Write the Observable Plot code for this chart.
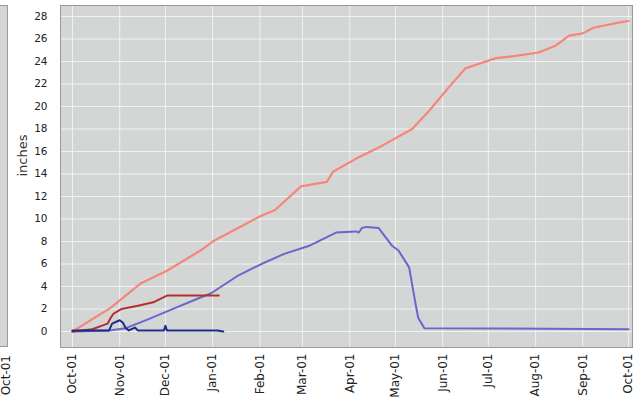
<!DOCTYPE html>
<html>
<head>
<meta charset="utf-8">
<script src="https://cdn.jsdelivr.net/npm/d3@7"></script>
<script src="https://cdn.jsdelivr.net/npm/@observablehq/plot@0.6"></script>
<style>
  html, body { margin: 0; padding: 0; background: #fff; }
  #wrap { position: relative; width: 637px; height: 408px; overflow: hidden; font-family: "DejaVu Sans", sans-serif; }
  #chart { position: absolute; left: 0; top: 0; }
  #strip { position: absolute; left: 0; top: 5px; width: 8px; height: 342px; background: #d4d6d6; border-right: 1px solid #9a9a9a; border-top: 1px solid #9a9a9a; border-bottom: 1px solid #9a9a9a; box-sizing: border-box; }
  #stripLabel { position: absolute; left: 0; top: 355px; font-size: 12px; line-height: 13px; color: #222; transform-origin: 0 0; transform: rotate(-90deg) translate(-100%, 0); white-space: nowrap; }
</style>
</head>
<body>
<div id="wrap">
  <div id="strip"></div>
  <div id="stripLabel">Oct-01</div>
  <div id="chart"></div>
</div>
<script>
// Normal (average) cumulative precipitation
const normPrecipDates = ["2000-10-01","2000-10-26","2000-11-15","2000-12-02","2000-12-24","2001-01-01","2001-02-02","2001-02-11","2001-02-28","2001-03-17","2001-03-21","2001-04-07","2001-04-22","2001-05-12","2001-05-23","2001-06-05","2001-06-16","2001-07-06","2001-07-19","2001-08-03","2001-08-14","2001-08-23","2001-09-01","2001-09-08","2001-09-26","2001-10-01"];
const normPrecipValues = [0,2.1,4.3,5.4,7.2,8.0,10.3,10.8,12.9,13.3,14.2,15.5,16.5,18.0,19.6,21.7,23.4,24.3,24.5,24.8,25.4,26.3,26.5,27.0,27.5,27.6];

// Normal (average) snow water equivalent
const normSweDates = ["2000-10-01","2000-10-25","2000-11-05","2000-11-20","2000-12-04","2000-12-20","2000-12-31","2001-01-18","2001-02-02","2001-02-17","2001-03-05","2001-03-17","2001-03-23","2001-04-05","2001-04-07","2001-04-09","2001-04-12","2001-04-20","2001-04-29","2001-05-03","2001-05-10","2001-05-14","2001-05-16","2001-05-20","2001-10-01"];
const normSweValues = [0,0.1,0.3,1.1,1.9,2.8,3.4,5.0,6.0,6.9,7.6,8.4,8.8,8.9,8.8,9.2,9.3,9.2,7.6,7.2,5.7,2.6,1.2,0.3,0.2];

// Current year cumulative precipitation
const curPrecipDates = ["2000-10-01","2000-10-14","2000-10-24","2000-10-26","2000-10-28","2000-11-02","2000-11-13","2000-11-23","2000-12-02","2001-01-05"];
const curPrecipValues = [0,0.2,0.7,1.2,1.6,2.0,2.3,2.6,3.2,3.2];

// Current year snow water equivalent
const curSweDates = ["2000-10-01","2000-10-25","2000-10-27","2000-11-01","2000-11-03","2000-11-05","2000-11-07","2000-11-11","2000-11-13","2000-11-30","2000-12-01","2000-12-02","2001-01-04","2001-01-08"];
const curSweValues = [0.1,0.1,0.7,1.0,0.8,0.3,0.1,0.35,0.1,0.1,0.5,0.1,0.1,0.0];

const yTicks = d3.range(0, 29, 2);
const monthTicks = d3.utcMonth.range(new Date("2000-10-01"), new Date("2001-10-02"));

function toRows(dates, values, series) {
  return dates.map((d, i) => ({date: new Date(d), value: values[i], series}));
}
const normPrecip = toRows(normPrecipDates, normPrecipValues, "normPrecip");
const normSwe = toRows(normSweDates, normSweValues, "normSwe");
const curPrecip = toRows(curPrecipDates, curPrecipValues, "curPrecip");
const curSwe = toRows(curSweDates, curSweValues, "curSwe");

const plot = Plot.plot({
  width: 637,
  height: 408,
  marginLeft: 60,
  marginRight: 5,
  marginTop: 5,
  marginBottom: 61,
  style: {fontFamily: "DejaVu Sans, sans-serif", color: "#222", background: "transparent"},
  x: {type: "utc", domain: [new Date("2000-09-23T03:00Z"), new Date("2001-10-03T15:00Z")]},
  y: {domain: [-1.42, 28.98]},
  marks: [
    Plot.frame({fill: "#d4d6d6", stroke: null}),
    Plot.gridX(monthTicks, {stroke: "#f4f4f4", strokeOpacity: 0.9, strokeWidth: 1}),
    Plot.gridY(yTicks, {stroke: "#f4f4f4", strokeOpacity: 0.9, strokeWidth: 1}),
    Plot.line(normPrecip, {x: "date", y: "value", stroke: "#f4877a", strokeWidth: 2.2}),
    Plot.line(normSwe, {x: "date", y: "value", stroke: "#6a66cc", strokeWidth: 2}),
    Plot.line(curPrecip, {x: "date", y: "value", stroke: "#b3302e", strokeWidth: 2}),
    Plot.line(curSwe, {x: "date", y: "value", stroke: "#1f2c86", strokeWidth: 2}),
    Plot.frame({stroke: "#9a9a9a", strokeWidth: 1}),
    Plot.axisY(yTicks, {tickSize: 0, tickPadding: 13, fontSize: 10.5, label: null}),
    Plot.axisX(monthTicks, {tickSize: 0, tickPadding: 6, tickRotate: -90, fontSize: 12, tickFormat: d3.utcFormat("%b-%d"), label: null}),
    Plot.text(["inches"], {frameAnchor: "left", dx: -38, rotate: -90, fontSize: 13, fill: "#333"})
  ]
});
document.getElementById("chart").appendChild(plot);
</script>
</body>
</html>
